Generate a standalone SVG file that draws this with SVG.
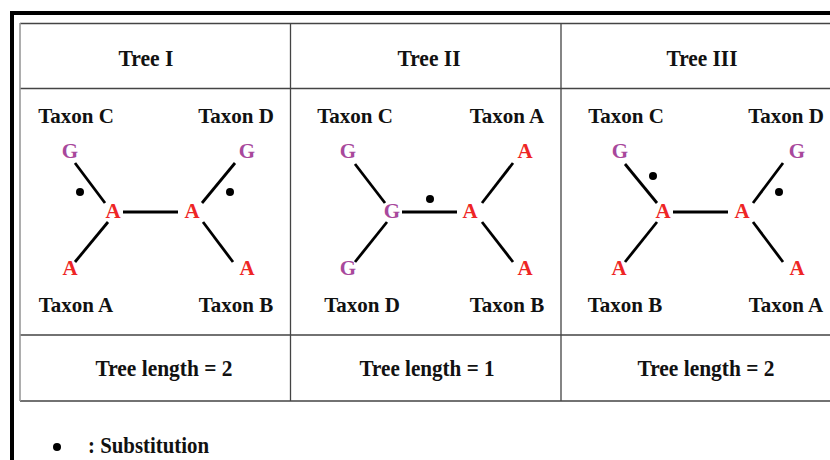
<svg xmlns="http://www.w3.org/2000/svg" width="830" height="460" viewBox="0 0 830 460">
<style>
.frame{stroke:#000;stroke-width:4;fill:none}
.grid{stroke:#444;stroke-width:1.3;fill:none}
.gridl{stroke:#999;stroke-width:1.6;fill:none}
.hd{font-family:"Liberation Serif",serif;font-weight:bold;font-size:24px;fill:#111;text-anchor:middle}
.tx{font-family:"Liberation Serif",serif;font-weight:bold;font-size:21px;fill:#111;text-anchor:middle}
.g{font-family:"Liberation Serif",serif;font-weight:bold;font-size:21px;fill:#a8489c;text-anchor:middle}
.a{font-family:"Liberation Serif",serif;font-weight:bold;font-size:21px;fill:#ee2525;text-anchor:middle}
.br{stroke:#000;stroke-width:2.8;stroke-linecap:butt}
.dot{fill:#000}
</style>
<rect width="830" height="460" fill="#fff"/>
<g id="frame">
<path class="frame" d="M12 460 V13 H830"/>
</g>
<g id="table">
<path class="grid" d="M20 23.5 H830 M20 88.5 H830 M20 335 H830 M20 401 H830 M290.5 23 V401 M561 23 V401"/>
<path class="gridl" d="M20 23 V401"/>
</g>
<g id="headers">
<text class="hd" x="146" y="66" textLength="55" lengthAdjust="spacingAndGlyphs">Tree I</text>
<text class="hd" x="429" y="66" textLength="63" lengthAdjust="spacingAndGlyphs">Tree II</text>
<text class="hd" x="702" y="66" textLength="71" lengthAdjust="spacingAndGlyphs">Tree III</text>
</g>
<g id="connectors">
<line class="br" x1="75" y1="163" x2="105" y2="203"/>
<line class="br" x1="123" y1="212" x2="178" y2="212"/>
<line class="br" x1="202" y1="203" x2="235" y2="163"/>
<line class="br" x1="108" y1="222" x2="75" y2="262"/>
<line class="br" x1="203" y1="222" x2="233" y2="262"/>
<line class="br" x1="355" y1="164" x2="385" y2="203"/>
<line class="br" x1="402" y1="212" x2="457" y2="212"/>
<line class="br" x1="482" y1="203" x2="513" y2="163"/>
<line class="br" x1="387" y1="222" x2="355" y2="262"/>
<line class="br" x1="482" y1="222" x2="513" y2="262"/>
<line class="br" x1="625" y1="164" x2="657" y2="203"/>
<line class="br" x1="673" y1="212" x2="728" y2="212"/>
<line class="br" x1="753" y1="203" x2="783" y2="163"/>
<line class="br" x1="657" y1="222" x2="625" y2="262"/>
<line class="br" x1="753" y1="222" x2="783" y2="262"/>
</g>
<g id="substitutions">
<circle class="dot" cx="80" cy="192" r="4"/>
<circle class="dot" cx="230" cy="192" r="4"/>
<circle class="dot" cx="430" cy="199" r="4"/>
<circle class="dot" cx="653" cy="176" r="4"/>
<circle class="dot" cx="779" cy="192" r="4"/>
</g>
<g id="tree1">
<g id="t1-taxonC"><text class="tx" x="76" y="123">Taxon C</text><text class="g" x="70" y="158">G</text></g>
<g id="t1-taxonD"><text class="tx" x="236" y="123">Taxon D</text><text class="g" x="247" y="158">G</text></g>
<g id="t1-n1"><text class="a" x="113" y="218">A</text></g>
<g id="t1-n2"><text class="a" x="192" y="218">A</text></g>
<g id="t1-taxonA"><text class="a" x="70" y="275">A</text><text class="tx" x="76" y="312">Taxon A</text></g>
<g id="t1-taxonB"><text class="a" x="247" y="275">A</text><text class="tx" x="236" y="312">Taxon B</text></g>
</g>
<g id="tree2">
<g id="t2-taxonC"><text class="tx" x="355" y="123">Taxon C</text><text class="g" x="348" y="158">G</text></g>
<g id="t2-taxonA"><text class="tx" x="507" y="123">Taxon A</text><text class="a" x="525" y="158">A</text></g>
<g id="t2-n1"><text class="g" x="392" y="218">G</text></g>
<g id="t2-n2"><text class="a" x="470" y="218">A</text></g>
<g id="t2-taxonD"><text class="g" x="348" y="275">G</text><text class="tx" x="362" y="312">Taxon D</text></g>
<g id="t2-taxonB"><text class="a" x="525" y="275">A</text><text class="tx" x="507" y="312">Taxon B</text></g>
</g>
<g id="tree3">
<g id="t3-taxonC"><text class="tx" x="626" y="123">Taxon C</text><text class="g" x="620" y="158">G</text></g>
<g id="t3-taxonD"><text class="tx" x="786" y="123">Taxon D</text><text class="g" x="797" y="158">G</text></g>
<g id="t3-n1"><text class="a" x="663" y="218">A</text></g>
<g id="t3-n2"><text class="a" x="742" y="218">A</text></g>
<g id="t3-taxonB"><text class="a" x="619" y="275">A</text><text class="tx" x="625" y="312">Taxon B</text></g>
<g id="t3-taxonA"><text class="a" x="797" y="275">A</text><text class="tx" x="786" y="312">Taxon A</text></g>
</g>
<g id="lengths">
<text class="hd" x="164" y="376" textLength="137" lengthAdjust="spacingAndGlyphs">Tree length = 2</text>
<text class="hd" x="427" y="376" textLength="135" lengthAdjust="spacingAndGlyphs">Tree length = 1</text>
<text class="hd" x="706" y="376" textLength="137" lengthAdjust="spacingAndGlyphs">Tree length = 2</text>
</g>
<g id="legend">
<circle class="dot" cx="57" cy="447" r="4"/>
<text class="hd" x="88" y="453" style="text-anchor:start" textLength="121" lengthAdjust="spacingAndGlyphs">: Substitution</text>
</g>
</svg>
